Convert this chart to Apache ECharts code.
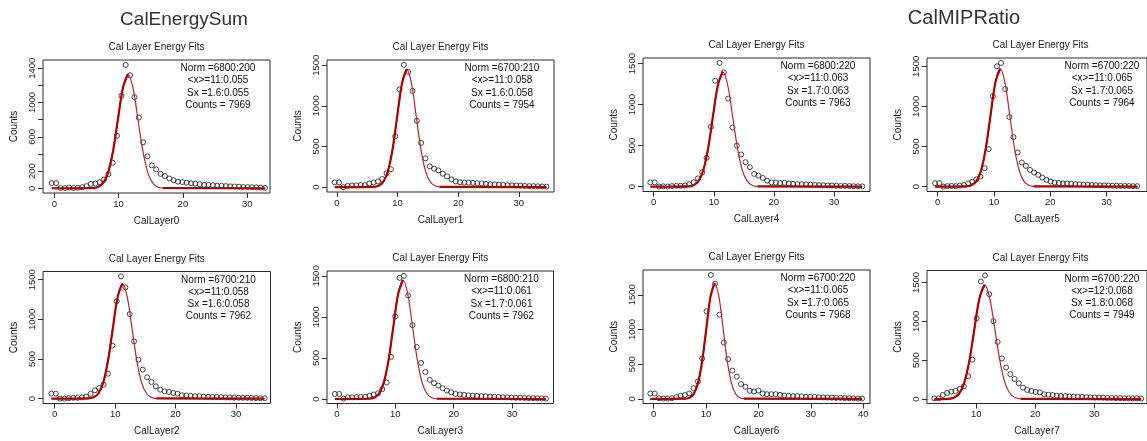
<!DOCTYPE html>
<html><head><meta charset="utf-8">
<script src="https://cdn.jsdelivr.net/npm/echarts@6/dist/echarts.min.js"></script>
<style>html,body{margin:0;padding:0;background:#fff}#c{width:1147px;height:441px}</style>
</head><body><div id="c"></div>
<script>
// ---------------- DATA ----------------
const layerNames = ['CalLayer0','CalLayer1','CalLayer2','CalLayer3','CalLayer4','CalLayer5','CalLayer6','CalLayer7'];
const groupTitles = ['CalEnergySum', 'CalMIPRatio'];
const panelTitle = 'Cal Layer Energy Fits';
const yAxisTitle = 'Counts';

// histogram bin centres: first centre and bin width per layer
const binStart = [-0.4, -0.38, -0.55, -0.35, -0.56, -0.46, -0.64, 2.88];
const binStep  = [0.677, 0.713, 0.72, 0.738, 0.72, 0.733, 0.825, 0.716];

const countsLayer0 = [60,60,3,2,8,3,5,12,25,51,55,70,102,165,298,612,1078,1439,1318,1063,824,537,373,267,220,168,143,114,92,77,72,64,58,54,47,39,39,35,31,28,25,22,20,18,15,14,12,10,8,5];
const countsLayer1 = [58,58,0,15,20,22,25,25,45,58,70,100,170,220,626,1203,1504,1417,1183,816,544,354,255,227,206,165,132,95,70,60,55,55,52,48,45,40,35,33,30,27,25,22,20,18,15,12,12,10,8,6];
const countsLayer2 = [63,63,0,0,5,10,10,15,25,60,105,135,176,315,668,1227,1542,1403,1067,723,492,366,269,210,155,113,92,84,71,63,42,40,35,30,30,25,22,20,20,18,15,15,12,12,10,10,8,6,5,5];
const countsLayer3 = [62,62,5,20,20,22,25,28,40,55,70,120,201,514,1007,1476,1500,1262,900,633,440,329,234,193,164,132,103,82,62,55,50,45,42,38,35,32,30,28,25,22,20,18,15,15,12,10,10,8,6,5];
const countsLayer4 = [53,53,2,5,3,8,10,12,15,30,55,102,176,352,730,1291,1508,1393,1074,721,500,393,299,238,156,135,107,74,53,50,45,48,40,35,32,30,28,25,22,20,18,15,15,12,10,10,8,6,5,4];
const countsLayer5 = [42,42,0,5,8,5,12,20,40,60,90,125,229,467,1125,1500,1542,1217,867,617,425,300,258,208,175,146,113,83,63,50,45,40,38,35,30,28,25,22,20,18,15,15,12,10,10,8,8,6,5,5];
const countsLayer6 = [78,78,10,5,5,10,25,45,55,78,155,252,583,1262,1786,1660,1214,811,573,408,320,214,175,117,107,121,78,68,68,68,58,49,45,40,40,35,30,30,28,25,22,20,18,15,15,12,10,8,6,5];
const countsLayer7 = [9,9,52,78,95,104,130,164,294,506,1038,1513,1591,1349,1003,735,523,406,320,259,203,147,117,104,91,86,61,56,52,43,39,39,35,32,30,28,25,22,20,20,18,15,15,12,12,10,10,8,8,6];
const countsByLayer = [countsLayer0,countsLayer1,countsLayer2,countsLayer3,countsLayer4,countsLayer5,countsLayer6,countsLayer7];

// fitted curve as [x, counts]
const fitLayer0 = [[-0.4,0],[6.03,3],[6.80,15],[7.58,59],[8.35,180],[9.13,432],[9.90,807],[10.68,1173],[11.45,1330],[12.23,1173],[13.00,807],[13.78,432],[14.55,180],[15.33,59],[16.10,15],[16.88,3],[32.8,0]];
const fitLayer1 = [[-0.38,0],[6.08,3],[6.85,16],[7.63,64],[8.40,196],[9.18,471],[9.95,880],[10.73,1279],[11.5,1450],[12.28,1279],[13.05,880],[13.83,471],[14.60,196],[15.38,64],[16.15,16],[16.93,3],[34.56,0]];
const fitLayer2 = [[-0.55,0],[5.6,3],[6.4,16],[7.2,64],[8.0,196],[8.8,471],[9.6,880],[10.4,1279],[11.2,1450],[12.0,1279],[12.8,880],[13.6,471],[14.4,196],[15.2,64],[16.0,16],[16.8,3],[34.7,0]];
const fitLayer3 = [[-0.35,0],[5.53,3],[6.35,16],[7.18,64],[8.0,196],[8.83,471],[9.65,880],[10.48,1279],[11.3,1450],[12.13,1279],[12.95,880],[13.78,471],[14.6,196],[15.43,64],[16.25,16],[17.08,3],[35.8,0]];
const fitLayer4 = [[-0.56,0],[5.73,3],[6.55,15],[7.38,62],[8.20,189],[9.03,455],[9.85,850],[10.68,1235],[11.5,1400],[12.33,1235],[13.15,850],[13.98,455],[14.80,189],[15.63,62],[16.45,15],[17.28,3],[34.7,0]];
const fitLayer5 = [[-0.46,0],[5.15,3],[6.0,16],[6.85,65],[7.7,198],[8.55,478],[9.4,892],[10.25,1297],[11.1,1470],[11.95,1297],[12.8,892],[13.65,478],[14.5,198],[15.35,65],[16.2,16],[17.05,3],[35.5,0]];
const fitLayer6 = [[-0.64,0],[6.05,3],[6.85,18],[7.65,73],[8.45,225],[9.25,543],[10.05,1014],[10.85,1473],[11.65,1670],[12.45,1473],[13.25,1014],[14.05,543],[14.85,225],[15.65,73],[16.45,18],[17.25,3],[39.8,0]];
const fitLayer7 = [[2.88,0],[5.28,3],[6.15,16],[7.03,65],[7.9,198],[8.78,478],[9.65,892],[10.53,1297],[11.4,1470],[12.28,1297],[13.15,892],[14.03,478],[14.9,198],[15.78,65],[16.65,16],[17.53,3],[37.96,0]];
const fitByLayer = [fitLayer0,fitLayer1,fitLayer2,fitLayer3,fitLayer4,fitLayer5,fitLayer6,fitLayer7];

const statsLayer0 = ['Norm =6800:200','<x>=11:0.055','Sx =1.6:0.055','Counts = 7969'];
const statsLayer1 = ['Norm =6700:210','<x>=11:0.058','Sx =1.6:0.058','Counts = 7954'];
const statsLayer2 = ['Norm =6700:210','<x>=11:0.058','Sx =1.6:0.058','Counts = 7962'];
const statsLayer3 = ['Norm =6800:210','<x>=11:0.061','Sx =1.7:0.061','Counts = 7962'];
const statsLayer4 = ['Norm =6800:220','<x>=11:0.063','Sx =1.7:0.063','Counts = 7963'];
const statsLayer5 = ['Norm =6700:220','<x>=11:0.065','Sx =1.7:0.065','Counts = 7964'];
const statsLayer6 = ['Norm =6700:220','<x>=11:0.065','Sx =1.7:0.065','Counts = 7968'];
const statsLayer7 = ['Norm =6700:220','<x>=12:0.068','Sx =1.8:0.068','Counts = 7949'];
const statsByLayer = [statsLayer0,statsLayer1,statsLayer2,statsLayer3,statsLayer4,statsLayer5,statsLayer6,statsLayer7];

// axis ranges and tick labels
const xRange = [[-1.76,33.55],[-1.65,35.8],[-1.94,35.7],[-1.71,37.1],[-1.78,36.0],[-1.9,37.2],[-2.04,41.3],[1.63,38.95]];
const xTicksA = [0,10,20,30];
const xTicksB = [0,10,20,30,40];
const xTicksC = [10,20,30];
const xTicksByLayer = [xTicksA,xTicksA,xTicksA,xTicksA,xTicksA,xTicksA,xTicksB,xTicksC];
const yTicksA = [0,200,400,600,800,1000,1200,1400];
const yLabelsA = [0,200,600,1000,1400];
const yTicksB = [0,500,1000,1500];

// ---------------- LAYOUT ----------------
const FONT = '"Liberation Sans", Arial, sans-serif';
const panels = [
  {layer:0, left:43,  top:60,    width:227,   height:133},
  {layer:1, left:327, top:60,    width:227,   height:132},
  {layer:4, left:643, top:58,    width:227,   height:133.5},
  {layer:5, left:927, top:58,    width:227,   height:133.5},
  {layer:2, left:43,  top:271.5, width:227.5, height:132},
  {layer:3, left:327, top:271,   width:226.5, height:132.5},
  {layer:6, left:643, top:270,   width:227,   height:133.5},
  {layer:7, left:927, top:270.5, width:227,   height:133}
];

const grid = [], xAxis = [], yAxis = [], series = [], graphic = [];
function txt(text, x, y, size, color) {
  graphic.push({type:'text', x:x, y:y, silent:true, z:100,
    style:{text:text, fill:color||'#222', fontSize:size, fontFamily:FONT,
      align:'center', verticalAlign:'middle', textAlign:'center', textVerticalAlign:'middle'}});
}
const plain = v => String(Math.round(v));

panels.forEach((p, i) => {
  const L = p.layer;
  const vals = countsByLayer[L];
  const ymax = Math.max.apply(null, vals), ymin = Math.min.apply(null, vals);
  const pad = 0.04 * (ymax - ymin);
  const yT = L === 0 ? yTicksA : yTicksB;
  const yL = L === 0 ? yLabelsA : yTicksB;
  grid.push({left:p.left, top:p.top, width:p.width, height:p.height, show:true,
    borderColor:'#2a2a2a', borderWidth:1, backgroundColor:'rgba(0,0,0,0)'});
  xAxis.push({type:'value', gridIndex:i, min:xRange[L][0], max:xRange[L][1],
    name:layerNames[L], nameLocation:'middle', nameGap:23,
    nameTextStyle:{fontSize:10, color:'#222', fontFamily:FONT},
    axisLine:{show:false, onZero:false}, splitLine:{show:false},
    axisTick:{show:true, length:5, lineStyle:{color:'#333', width:1}, customValues:xTicksByLayer[L]},
    axisLabel:{customValues:xTicksByLayer[L], formatter:plain, fontSize:9.5, color:'#222', margin:6, fontFamily:FONT}});
  yAxis.push({type:'value', gridIndex:i, min:ymin - pad, max:ymax + pad,
    name:yAxisTitle, nameLocation:'middle', nameGap:24,
    nameTextStyle:{fontSize:10, color:'#222', fontFamily:FONT},
    axisLine:{show:false, onZero:false}, splitLine:{show:false},
    axisTick:{show:true, length:5, lineStyle:{color:'#333', width:1}, customValues:yT},
    axisLabel:{customValues:yL, formatter:plain, rotate:90, fontSize:9.5, color:'#222', margin:6, fontFamily:FONT}});

  series.push({type:'scatter', xAxisIndex:i, yAxisIndex:i, silent:true, z:2,
    symbol:'circle', symbolSize:5,
    itemStyle:{color:'rgba(0,0,0,0)', borderColor:'#1a1a1a', borderWidth:1},
    data: vals.map((v, k) => [binStart[L] + k * binStep[L], v])});

  const fit = fitByLayer[L];
  let pk = 0;
  fit.forEach((pt, k) => { if (pt[1] > fit[pk][1]) pk = k; });
  let tailIdx = fit.length - 1;
  for (let k = pk + 1; k < fit.length; k++) { if (fit[k][1] <= 3) { tailIdx = k; break; } }
  series.push({type:'line', xAxisIndex:i, yAxisIndex:i, silent:true, z:3, showSymbol:false,
    smooth:0.35, lineStyle:{color:'#c02030', width:1.2}, data:fit});
  series.push({type:'line', xAxisIndex:i, yAxisIndex:i, silent:true, z:4, showSymbol:false,
    smooth:0.35, lineStyle:{color:'#b00000', width:2.2}, data:fit.slice(0, pk + 1)});
  series.push({type:'line', xAxisIndex:i, yAxisIndex:i, silent:true, z:4, showSymbol:false,
    lineStyle:{color:'#b00000', width:2.2}, data:fit.slice(tailIdx)});

  // panel title and fit statistics
  txt(panelTitle, p.left + p.width / 2, p.top - 12.5, 10, '#222');
  statsByLayer[L].forEach((s, k) => txt(s, p.left + p.width - 52, p.top + 8.5 + 12.2 * k, 10, '#111'));
});

txt(groupTitles[0], 184, 20, 19, '#333');
txt(groupTitles[1], 964, 18, 20, '#333');

const chart = echarts.init(document.getElementById('c'), null, {renderer:'canvas'});
chart.setOption({animation:false, backgroundColor:'#fff', grid, xAxis, yAxis, series, graphic});
</script></body></html>
